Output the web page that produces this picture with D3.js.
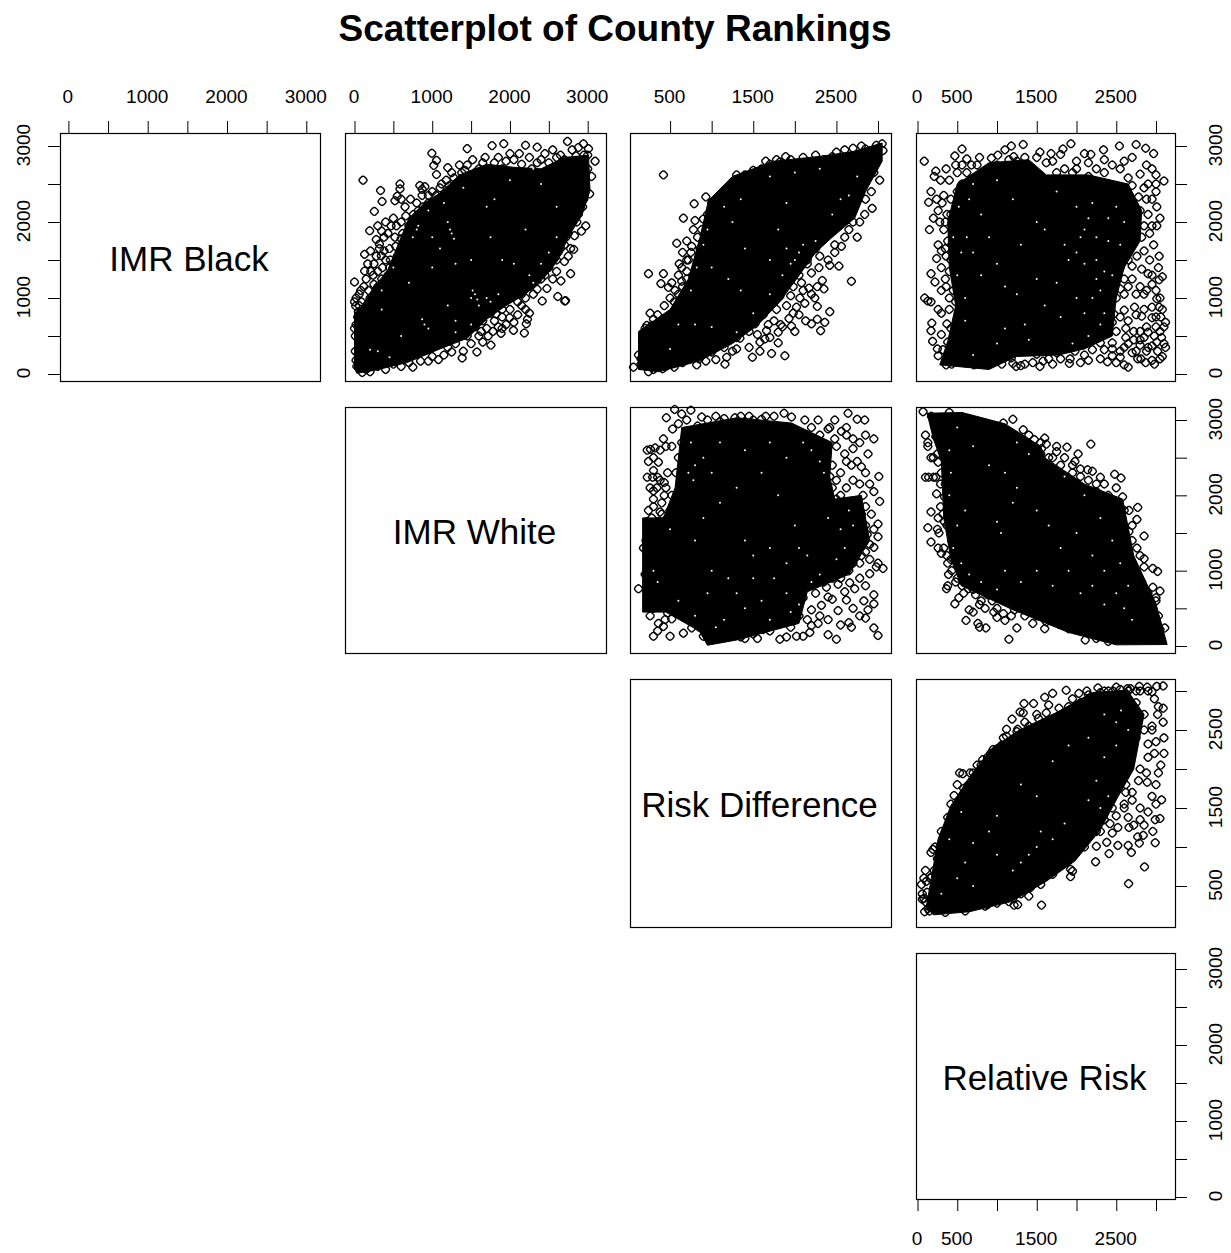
<!DOCTYPE html>
<html><head><meta charset="utf-8">
<script src="https://cdn.jsdelivr.net/npm/d3@7"></script>
<style>
html,body{margin:0;padding:0;background:#fff}
text{font-family:"Liberation Sans",Arial,sans-serif;fill:#000}
</style></head><body>
<svg id="c" width="1231" height="1253"></svg>
<script>
// ---- labels and ticks ----
const chartTitle = "Scatterplot of County Rankings";
const variables = ["IMR Black","IMR White","Risk Difference","Relative Risk"];
const ticksFull = [0,500,1000,1500,2000,2500,3000];
const ticksRD = [500,1000,1500,2000,2500,3000];
const labelsThousands = [0,1000,2000,3000];
const labelsOdd = [500,1500,2500];
const labelsOddZero = [0,500,1500,2500];

// ---- values: [x rank, y rank] ----
// NOTE: the original has thousands of overplotted counties that cannot be read one by one.
// The pts/more lists are a hand-read sample of the visible symbols, not the full data;
// the core outlines stand in for the solid overplotted areas and the gaps for white specks in them.
const ptsWhiteBlack = [[110,2550],[335,2415],[355,2270],[255,2140],[195,1885],[585,2500],[585,2435],[550,2340],[520,2280],[600,2300],[840,2480],[905,2465],[870,2430],[995,2905],[1055,2810],[1020,2745],[1055,2625],[1200,2715],[1450,2965],[1770,3005],[1920,3030],[2200,3010],[2350,2985],[2740,3060],[2945,3030],[3010,2965],[3095,2800],[3050,2600],[3025,2370],[2975,1950],[2935,2200],[2830,1820],[2820,1640],[2780,1320],[2655,1225],[2475,1125],[2350,1115],[2415,960],[2615,1020],[2705,960],[2715,965],[2200,850],[2225,720],[2185,540],[2045,575],[1995,740],[1885,535],[1755,380],[1575,290],[1385,210],[1080,190],[750,90],[0,1210],[130,1575],[205,1620],[320,1710],[345,1555],[130,1355],[15,895],
[80,1100],[150,1250],[250,1180],[300,1350],[400,1500],[250,1450],[450,1650],[380,1800],[300,1950],[400,2000],[500,2050],[600,2000],[700,1950],[620,1850],[520,1800],[470,1950],[760,2100],[650,2200],[720,2300],[800,2250],[870,2350],[950,2250],[1000,2400],[1100,2450],[1180,2550],[1250,2650],[1350,2750],[1420,2680],[1520,2820],[1600,2700],[1680,2850],[1800,2780],[1900,2700],[2050,2820],[2120,2900],[2250,2850],[2350,2780],[2450,2900],[2550,2950],[2650,2880],[2800,2950],[2880,2980],[200,1000],[60,900],[120,800],[40,750],[350,1250],[450,1400],[550,1550],[650,1700],[770,1780],[500,1250],[320,1650],[210,1350],[420,1180],[2950,2300],[2880,2100],[2800,2000],[2720,1800],[2650,1650],[2750,1550],[2600,1500],[2500,1400],[2550,1250],[2400,1250],[2300,1050],[2200,1000],[2100,950],[2000,850],[1900,750],[1800,700],[1850,620],[1700,600],[1600,500],[1650,420],[1500,400],[1400,300],[1250,290],[1150,250],[950,170],[850,170],[600,100],[400,60],[200,30],[100,20],[30,100],[10,300],[50,450],[0,600],[1780,560],[1950,960],[2080,1100],[2230,1280],[2350,1350],[2470,1520],[2560,1720],[2700,1700],[2900,2500],[2960,2700],[3000,2880]];
const moreWhiteBlack = [[60,1050],[120,1150],[180,1100],[240,1300],[170,1450],[280,1550],[360,1400],[430,1300],[500,1450],[560,1400],[330,1050],[260,1050],[400,1100],[480,1150],[600,1350],[640,1500],[700,1600],[750,1500],[380,1620],[460,1500],[530,1680],[600,1780],[680,1800],[430,1850],[350,1880],[280,1770],[540,1950],[660,2080],[740,1980],[820,2150],[880,2200],[950,2350],[1050,2350],[1120,2500],[1220,2480],[1280,2580],[1380,2650],[1450,2750],[1550,2650],[1650,2780],[1750,2700],[1850,2850],[1950,2800],[2000,2900],[2150,2760],[2280,2700],[2400,2820],[2500,2780],[2600,2850],[2700,2820],[2850,2870],[2950,2880],[20,1000],[50,820],[90,950],[150,900],[250,920],[300,1150],[0,950],[20,650],[70,600],[10,500],[60,250],[20,180],[90,100],[150,60],[300,100],[500,130],[700,150],[1000,230],[1200,350],[1300,400],[1450,500],[1550,620],[1650,700],[1750,800],[1900,850],[2000,1000],[2150,1050],[2250,1150],[2350,1230],[2450,1300],[2550,1500],[2620,1600],[2650,1750],[2750,1850],[2800,2100],[2850,2250],[2950,2450],[3000,2700],[2050,680],[1950,650],[1900,600],[2100,780],[2150,900],[1720,500],[1820,790],[1630,560],[2250,800],[2210,660],[2290,1180],[2600,1350],[2700,1480],[2780,1650],[2860,2000],[2920,1880]];
const ptsDiffBlack = [[420,2620],[790,2240],[930,2330],[660,2050],[800,2020],[900,2040],[1000,2130],[960,1990],[1040,2210],[1130,2140],[1170,2270],[1350,2500],[1430,2520],[1540,2570],[1600,2700],[1700,2760],[1820,2790],[1890,2860],[2000,2740],[2150,2780],[2350,2820],[2450,2860],[2600,2950],[2700,2970],[2850,2960],[2980,3010],[3050,3030],[3060,2940],[2980,2800],[3020,2550],[2920,2400],[2930,2180],[2840,2100],[2780,2000],[2650,1900],[2560,1680],[2480,1600],[2420,1430],[2530,1420],[2750,1800],[2210,1620],[2290,1400],[2330,1230],[2680,1220],[2270,1150],[2170,1130],[1980,1150],[1950,1030],[2120,930],[2270,890],[2360,680],[2310,570],[2020,880],[1930,730],[1830,650],[1850,620],[1800,410],[1640,460],[1340,470],[1490,220],[1880,240],[1720,270],[1580,300],[1160,130],[820,120],[550,90],[240,30],[310,150],[410,70],[60,90],[230,300],[170,490],[220,640],[300,720],[260,800],[550,950],[480,1140],[240,1320],[390,1190],[600,1050],[420,1320],[610,1450],[760,1680],[580,1720],[780,1900],[720,1500],[640,1220],[820,1100],[700,1350],[1950,1600],[2150,1500],[2050,1300],[2200,1330],[1900,1350],[1850,1100],[2080,1200],[2240,1000],[2050,780],[2130,700],[2200,660],[2270,720],[2420,820],[1960,630],[1660,570],[1750,700],[1550,520],[1450,560],[1300,330],[1180,220],[1050,190],[930,170],[700,210],[600,260],[150,200],[180,120],[280,410]];
const moreDiffBlack = [[200,600],[280,640],[350,780],[430,900],[500,1000],[560,1100],[650,1150],[700,1250],[600,1300],[520,1200],[640,1400],[700,1500],[650,1600],[750,1600],[840,1500],[860,1650],[700,1750],[830,1800],[880,1900],[950,2100],[1000,2250],[1100,2350],[1200,2450],[1300,2620],[1400,2620],[1500,2680],[1650,2800],[1780,2820],[1950,2820],[2100,2850],[2250,2880],[2500,2920],[2800,3000],[2950,2950],[2900,2750],[2850,2600],[2750,2400],[2700,2250],[2600,2050],[2450,1950],[2350,1800],[2250,1650],[2300,1550],[2150,1450],[2050,1500],[2000,1400],[1950,1250],[2100,1100],[2200,1050],[2350,1120],[1850,1250],[1820,1020],[1700,920],[1620,780],[1520,660],[1400,600],[1300,480],[1150,350],[1000,290],[850,200],[650,150],[450,100],[300,60],[150,130],[120,250],[180,400],[1900,900],[1980,800],[2060,1000],[1780,850],[1680,650],[1800,550],[2000,560],[1700,480],[1580,420],[1450,350],[1250,300],[2400,1500],[2480,1700],[2600,1800],[2700,2000],[2850,2300],[2950,2650]];
const ptsRelBlack = [[85,2800],[230,2670],[210,2600],[560,2960],[470,2870],[620,2830],[930,2840],[1100,2950],[1180,3000],[1330,3020],[1210,2860],[1010,2880],[1540,2920],[1680,2900],[1830,2960],[1930,3030],[2180,2890],[2340,2950],[2540,3000],[2750,3020],[2870,2970],[2970,2900],[3100,2540],[3000,2400],[3010,2200],[3010,1950],[2970,1700],[3040,1550],[3040,1240],[2900,1320],[3010,990],[3040,880],[3120,680],[3100,400],[3010,420],[3080,230],[2950,180],[2650,90],[2810,200],[2450,240],[2390,160],[1920,200],[1910,140],[1540,100],[1350,130],[1300,110],[1240,100],[1020,200],[850,230],[710,120],[360,120],[260,240],[250,330],[130,960],[90,1000],[170,950],[260,850],[180,670],[170,570],[190,430],[220,1210],[170,1320],[240,1520],[260,1700],[150,1900],[200,2050],[140,2260],[170,2400],[290,2550],[360,2700],[500,2650],[560,2500],[1800,2890],[2000,2800],[2100,2900],[2250,2700],[2450,2750],[2550,2700],[2650,2580],[2800,2630],[2900,2500],[3000,2620],[2780,2330],[2880,2300],[2750,2100],[2650,1950],[2900,2100],[2700,1800],[2820,1800],[2920,1850],[2550,1700],[2400,1600],[2460,1450],[2550,1400],[2650,1500],[2760,1550],[2850,1620],[2360,1300],[2480,1200],[2600,1250],[2700,1250],[2800,1150],[2880,1100],[2950,1300],[3000,1100],[2400,1030],[2500,1000],[2600,1050],[2370,880],[2470,790],[2600,840],[2730,880],[2820,760],[2950,740],[3000,620],[2880,620],[2800,560],[2720,450],[2620,480],[2500,560],[2450,410],[2600,350],[2800,380],[2880,300],[2950,370],[3050,560],[3060,750],[2550,220],[2700,280],[2300,410],[2200,320],[2100,250],[2000,380],[1850,340],[1750,280],[1650,200],[1500,260],[1180,210],[1060,130],[950,310],[800,320],[650,220],[540,170],[430,130],[320,320],[380,420],[300,520],[370,660],[300,1100],[400,1000],[350,1250],[300,1400],[420,1500],[350,1650],[330,1900],[430,1700],[370,2100],[310,2250],[420,2300],[500,2400],[620,2650],[750,2750],[850,2650],[1350,2850],[1450,2700],[1620,2780],[1750,2650],[1950,2650],[2150,2600],[2400,2500],[2500,2300],[2350,2250],[2450,2150],[2620,2300],[2230,2000],[2400,1900],[2280,1850],[2520,2000]];
const moreRelBlack = [[2320,1900],[2420,1750],[2540,1820],[2640,1650],[2750,1950],[2850,1950],[2950,1950],[3050,2050],[2600,1600],[2700,1420],[2820,1380],[2920,1500],[3030,1400],[3080,1280],[2950,1180],[2850,1050],[2750,1050],[2650,1150],[2550,1120],[2450,1300],[2350,1480],[2300,1650],[2250,1400],[2300,1000],[2250,800],[2350,700],[2450,680],[2550,750],[2650,700],[2750,780],[2850,850],[2950,880],[3050,1000],[3080,850],[3000,750],[2900,550],[2980,500],[3070,480],[3120,350],[3020,300],[2900,350],[2750,300],[2650,400],[2550,300],[2450,330],[2350,320],[2220,480],[2300,620],[2180,600],[2400,580],[2620,600],[2720,560],[3100,620],[2850,480],[2800,450],[2770,200],[2870,150],[2980,130],[3050,200],[2600,120],[2500,150],[2300,200],[2150,180],[2050,150],[1980,300],[1800,200],[1700,130],[1580,170],[1450,150],[1200,140],[1100,220],[900,150],[800,170],[630,150],[480,190],[430,300],[560,310],[480,500],[420,600],[550,700],[300,800],[400,850],[480,950],[360,1150],[450,1100],[500,1250],[400,1350],[360,1550],[300,1620],[500,1550],[380,1750],[280,2000],[350,2000],[420,2100],[260,2150],[330,2350],[240,2300],[400,2550],[480,2750],[560,2750],[680,2750],[780,2850],[1000,2750],[1150,2820],[1250,2800],[1500,2850],[1700,2800],[1850,2700],[2000,2700],[2150,2780],[2350,2820],[2350,2650],[2600,2450],[2700,2480],[2850,2450],[2950,2300],[2800,2150],[2650,2150],[2950,2700],[3000,2500],[2880,2750],[2700,2850],[2600,2800]];
const ptsDiffWhite = [[555,3140],[455,3030],[640,3080],[750,3130],[530,2880],[420,2750],[320,2630],[360,2440],[300,2330],[225,2600],[265,2610],[225,2240],[290,2240],[350,2240],[430,2170],[300,2060],[430,2000],[240,1800],[300,1850],[400,1900],[500,1800],[220,1650],[350,1650],[460,1600],[210,1400],[300,1500],[180,1300],[260,1250],[290,1150],[230,1100],[320,1050],[360,950],[120,760],[270,860],[340,750],[430,680],[220,560],[300,500],[260,400],[360,300],[420,260],[470,440],[520,360],[560,540],[620,420],[700,620],[760,240],[660,170],[500,130],[900,130],[1100,180],[850,250],[1050,300],[1350,120],[1500,160],[1450,300],[1620,220],[1820,90],[1950,250],[1880,370],[1750,450],[1650,560],[1900,120],[2100,130],[2200,270],[2300,400],[2400,150],[2500,90],[2650,310],[2850,370],[2950,240],[3000,140],[2520,470],[2700,500],[2830,600],[2950,560],[2620,610],[2450,620],[2320,540],[2200,480],[2100,640],[2050,760],[2180,800],[2380,780],[2520,820],[2660,840],[2780,900],[2900,960],[2980,1050],[3060,1030],[3000,1100],[2900,1150],[2800,1200],[2700,1100],[2560,1050],[2850,1250],[2950,1310],[3000,1450],[2870,1480],[2780,1400],[2720,1550],[2920,1750],[3020,1920],[3000,1620],[2800,1750],[2700,1850],[2600,1900],[2900,2150],[2820,2000],[3010,2250],[2800,2380],[2700,2200],[2620,2450],[2550,2300],[2500,2650],[2700,2620],[2880,2550],[2780,2700],[2620,2800],[2560,2850],[2480,2750],[2620,2900],[2840,3000],[2750,3010],[2640,3090],[2400,2880],[2280,3000],[2120,3000],[1960,3040],[1870,3090],[1750,3050],[1600,3010],[1450,3050],[1280,3030],[1100,2980],[950,3000],[830,2920],[2100,2400],[2250,2500],[2350,2600],[2300,2200],[2450,2100],[2500,1950],[2400,1780],[2550,1650],[2480,1500],[2650,1400],[2400,1400],[2350,1250],[2500,1250],[2620,1280],[2300,1100],[2420,1050],[2100,900],[2250,880],[1950,640],[1780,330],[1620,400],[1350,240],[1200,420],[970,430],[980,600],[850,500],[870,780],[800,920],[750,1100],[700,1300],[620,1400],[650,1200],[550,1150],[480,1000],[420,1200],[500,1400],[600,1650],[640,1900],[700,2200],[570,2300],[470,2300],[600,2500],[520,2650],[640,2700]];
const moreDiffWhite = [[240,2450],[300,2500],[380,2600],[450,2650],[380,2200],[260,2100],[340,2100],[450,2100],[520,2000],[300,1950],[380,1780],[280,1700],[420,1500],[2600,2550],[2680,2400],[2750,2450],[2850,2300],[2950,2050],[2780,2150],[2620,2100],[2500,2200],[2350,2400],[2450,2400],[2420,2250],[2550,2000],[2400,2000],[2650,1700],[2850,1850],[2950,1550],[2850,1600],[2600,1500],[2900,1350],[2780,1100],[2650,1000],[2550,900],[2450,900],[2350,850],[2250,700],[2400,650],[2600,720],[2720,760],[2850,800],[2950,680],[2880,480],[2780,400],[2680,250],[2550,280],[2400,350],[2280,300],[2180,180],[2020,130],[2050,400],[2150,350],[2000,550],[1850,500],[1700,200],[1550,100],[1400,100],[1250,230],[1150,120],[1000,80],[850,350],[750,420],[650,530],[600,780],[500,750],[420,850],[300,700],[250,620],[380,560],[440,350],[350,200],[300,130],[240,600],[200,950],[250,1000],[340,1200],[440,1050],[400,1400],[340,1450],[260,1350],[230,1520],[280,1620],[320,1550],[400,1750],[550,1550],[620,1500],[2950,2750],[2850,2800],[2700,2750],[2420,2900],[2480,3000],[2200,2900],[1650,3050],[1500,3000],[1350,3050],[1150,3020],[1050,3050],[880,3040],[700,3000],[600,2950],[2300,2800]];
const ptsRelWhite = [[70,3110],[175,3050],[100,2800],[230,2780],[130,2650],[260,2440],[100,2240],[140,2240],[200,2240],[230,2240],[290,2150],[340,1980],[290,1850],[170,1780],[260,1700],[130,1570],[270,1500],[170,1380],[300,1230],[380,1100],[390,950],[380,800],[365,760],[480,850],[520,640],[470,560],[580,700],[650,480],[700,450],[610,340],[760,300],[780,250],[860,240],[960,450],[1150,90],[1000,500],[1100,340],[1300,520],[1080,2960],[1200,3010],[1330,2870],[1470,2740],[1620,2680],[1750,2650],[1880,2640],[2020,2550],[2180,2680],[2140,2340],[2300,2240],[2480,2280],[2560,2230],[2580,1980],[2660,1800],[2770,1840],[2760,1680],[2660,1520],[2850,1460],[2760,1300],[2850,1160],[2960,1030],[3020,990],[2960,780],[3050,730],[3000,640],[3110,240],[2850,240],[2680,170],[2480,210],[2280,130],[2110,80],[1900,230],[1780,290],[1620,320],[1500,400],[1350,620],[1600,2760],[1300,2750],[1000,2800],[920,2900],[600,3000],[400,3100],[320,2950],[240,2900],[200,2500],[420,2400],[500,2100],[480,1700],[450,1450],[520,1250],[580,1080],[620,900],[700,750],[800,600],[880,680],[1050,720],[1180,400],[1250,240],[1600,230],[1700,500],[1850,370],[2020,340],[2140,250],[2300,260],[2400,330],[2550,420],[2700,420],[2820,570],[2930,450],[3030,400],[2700,650],[2600,860],[2500,1030],[2560,1250],[2460,1500],[2350,1700],[2200,1950],[2250,2050],[2400,2000],[2500,2100],[1950,2400],[2050,2350],[1850,2500],[1700,2500],[1560,2620],[1500,2500]];
const moreRelWhite = [[130,2700],[170,2500],[250,2550],[300,2300],[350,2150],[240,2020],[320,1750],[370,1600],[430,1400],[500,1200],[420,1150],[560,1000],[480,1150],[340,1650],[250,1550],[260,1300],[330,1300],[370,1200],[430,1000],[500,900],[560,800],[640,760],[730,680],[780,550],[850,500],[940,600],[1000,380],[1080,430],[1130,620],[1220,480],[1350,400],[1450,300],[1500,580],[1620,420],[1750,380],[1900,330],[2000,250],[2150,180],[2250,100],[2400,60],[2550,90],[2700,120],[2850,160],[2950,300],[3050,220],[3000,600],[2900,700],[2820,850],[2740,1000],[2650,1250],[2600,1400],[2550,1600],[2500,1750],[2400,1950],[2250,2150],[2150,2200],[2050,2250],[1950,2300],[1800,2400],[1650,2500],[1550,2550],[1450,2650],[1350,2720],[1200,2800],[1080,2850],[850,2850],[720,2980],[500,3000],[2700,1600],[2600,1800],[2850,1050],[2800,1200],[2700,1400],[2420,1750],[2300,2000],[2350,2150],[2200,2320],[1980,2450],[1750,2580],[1550,2700],[1400,2800]];
const ptsRelDiff = [[80,600],[195,970],[570,1940],[925,2180],[1120,2510],[1260,2510],[1190,2640],[1330,2720],[2030,2970],[2550,3020],[3090,3065],[3090,2780],[3050,1365],[3070,1605],[2990,1055],[2655,530],[2855,745],[2410,915],[2240,810],[1925,715],[1925,620],[1570,605],[1560,255],[1215,255],[60,330],[110,560],[80,340],[180,620],[220,1000],[170,930],[300,1200],[380,1380],[460,1660],[500,1800],[530,1950],[820,2120],[1000,2260],[1290,2730],[1340,2840],[1460,2840],[1600,2920],[1700,2970],[1870,3010],[2130,3000],[2270,3040],[2460,3000],[2640,3030],[2790,3060],[2890,3050],[3010,3060],[2950,2990],[3030,2800],[3090,2600],[3100,2400],[3100,2200],[3060,2050],[3030,1950],[3000,1800],[3000,1550],[2990,1350],[2900,1450],[2850,1280],[2960,1200],[2790,1050],[2690,930],[2770,1130],[2660,1250],[2650,1020],[2520,1020],[2380,1060],[2250,1010],[1950,690],[1400,370],[1260,260],[1130,450],[1200,340],[1100,500],[950,580],[880,260],[720,300],[420,240],[240,200],[130,210],[90,170],[200,300],[300,200],[560,250],[780,420],[1020,380],[1250,520],[1380,660],[1700,770],[1850,880],[2000,960],[2150,1130],[2420,1300],[2500,1400],[2600,1550],[2800,1350],[2950,1650],[2890,1830],[2980,2200],[2900,2320],[2950,2550],[2850,2700],[2750,2850],[2800,3000],[2680,3030],[2550,2950],[2600,2300],[2650,2150],[2700,2350],[2550,1950],[2500,1720],[2700,1600],[2620,1700],[2800,1500],[2520,1250],[2450,1180],[2300,1200],[60,400],[100,700],[50,520],[280,1000],[350,1200],[420,1550],[660,1950],[750,2050],[920,2200],[1080,2400],[1350,2600],[1500,2700],[1650,2820],[1950,2900],[2150,2900],[2350,3000]];
const moreRelDiff = [[120,420],[160,600],[210,700],[250,850],[300,1050],[340,1150],[410,1300],[470,1400],[520,1600],[580,1750],[640,1800],[700,1950],[800,2050],[880,2150],[950,2250],[1050,2300],[1120,2420],[1250,2480],[1400,2550],[1520,2650],[1620,2720],[1780,2780],[1900,2800],[2050,2850],[2150,2950],[2300,2980],[2400,3000],[2500,3050],[2650,3000],[2750,3000],[2900,3000],[2980,2900],[3020,2700],[2950,2500],[3000,2350],[2900,2150],[2800,2000],[2750,2400],[2850,2500],[2700,2550],[2780,1850],[2700,1700],[2620,1800],[2880,1950],[2600,1500],[2650,1380],[2720,1280],[2840,1150],[2450,1500],[2350,1350],[2250,1200],[2150,1150],[2100,1000],[1950,950],[1800,780],[1700,650],[1550,520],[1420,480],[1300,400],[1150,300],[1000,280],[850,240],[600,180],[350,160],[150,180],[100,300],[220,450],[330,600],[480,720],[2400,2750],[2550,2700],[2650,2650],[2500,2450],[2560,2200],[2450,2000]];

// Overplotted solid core of each panel: outline
const coreWhiteBlack = [[0,80],[0,800],[100,900],[250,1150],[420,1350],[560,1700],[700,2050],[900,2250],[1100,2380],[1350,2620],[1700,2760],[2050,2720],[2400,2700],[2700,2850],[3010,2880],[3030,2414],[2930,2100],[2750,1800],[2620,1500],[2450,1280],[2200,1050],[1950,900],[1700,720],[1450,470],[1100,330],[675,150],[269,50],[30,10]];
const coreDiffBlack = [[120,60],[120,560],[500,850],[720,1250],[860,1800],[960,2280],[1250,2600],[1750,2800],[2350,2870],[2711,2930],[3050,3040],[3050,2800],[2850,2400],[2720,2050],[2450,1800],[2250,1600],[2020,1250],[1820,950],[1550,640],[1250,400],[850,170],[364,30]];
const coreRelBlack = [[280,120],[380,430],[480,900],[400,1400],[380,2000],[500,2500],[900,2780],[1400,2820],[1620,2620],[2150,2620],[2650,2500],[2820,2150],[2800,1750],[2600,1400],[2500,1000],[2450,500],[2100,330],[1776,250],[1241,230],[900,60]];
const coreDiffWhite = [[170,1700],[420,1700],[560,2100],[640,2900],[1303,3030],[1960,2960],[2450,2700],[2420,2250],[2480,1950],[2800,2000],[2900,1400],[2650,950],[2150,720],[2050,300],[1303,80],[950,10],[850,200],[450,450],[170,450]];
const coreRelWhite = [[120,3090],[560,3100],[1100,2950],[1550,2650],[1600,2500],[2100,2150],[2580,1950],[2720,1200],[3000,560],[3140,20],[2500,15],[1900,180],[1200,480],[550,800],[420,1150],[330,1700],[300,2450],[200,2750]];
const coreRelDiff = [[110,230],[260,1104],[420,1530],[670,1920],[930,2260],[1280,2500],[1740,2720],[2200,2980],[2640,3010],[2850,2700],[2720,2000],[2520,1640],[2300,1220],[1980,820],[1620,560],[1180,300],[654,170],[200,130]];

// Small white gaps between overplotted symbols inside each core
const gapsWhiteBlack = [[420,1700],[450,1580],[500,1400],[350,1100],[800,1900],[1200,2000],[1230,1900],[1300,1450],[1500,1000],[1550,1050],[900,650],[950,600],[350,850],[1800,2300],[2400,2500],[2300,2700],[2000,2550],[1700,2200],[1750,1800],[1900,1500],[2050,1450],[2200,1900],[2600,2200],[700,1200],[1000,1400],[1200,900],[1300,700],[1600,900],[1700,1000],[600,500],[300,300],[200,320],[450,220],[1000,1800],[1100,1650],[1500,1500],[750,1800],[820,1950],[950,2150],[1150,2250],[1400,2450],[1250,1850],[1280,1780],[1520,1100],[1580,980],[2250,1300],[2400,1450],[2500,1600],[2600,1800],[2300,1200],[1750,950],[1850,1050],[1500,650],[1300,550],[870,720]];
const gapsDiffBlack = [[1700,2600],[2000,2650],[2300,2700],[1350,2300],[1150,2200],[1250,2000],[2550,2300],[2450,2100],[1900,2250],[1800,1900],[1700,1500],[1000,1400],[1200,1250],[1350,1100],[800,650],[1000,620],[500,330],[1900,1650],[2250,1750],[2100,1700],[1400,1650],[1950,1450],[2050,1600],[2000,1500],[1850,1300],[1700,1050],[750,1100],[820,1400],[900,1700],[950,1900],[600,650],[2650,2350],[2750,2600],[1500,800],[1300,550]];
const gapsRelBlack = [[1000,2550],[1200,2300],[800,2100],[1500,2000],[1600,1900],[1300,1700],[1000,1450],[800,1300],[1500,1250],[1750,1200],[1600,900],[1350,650],[1100,600],[2100,1900],[2000,2200],[1750,2400],[900,1800],[700,1600],[1900,1500],[2000,1000],[1800,750],[1400,450],[1000,400],[700,250],[2250,1800],[2400,2050],[2200,2250],[1250,1050],[1100,1150],[1850,1700],[2500,2200],[2600,2000],[2550,1700],[2450,1300],[2300,1100],[2350,800],[2150,500],[1950,400],[600,1000],[500,1300],[450,1800],[520,2200],[700,2500],[2400,1750],[2250,1500],[2350,1350],[2200,1000],[2100,800],[2300,650],[620,1800],[550,1600],[650,2300],[600,700],[2150,2050],[2050,1800],[2000,1600],[2100,1450],[2250,1250]];
const gapsDiffWhite = [[900,2500],[1000,2300],[1100,2700],[1400,2600],[1700,2700],[1900,2500],[2100,2700],[1300,2100],[1600,2300],[1800,2000],[1100,1900],[900,1700],[800,1400],[1400,1400],[1500,1200],[1700,1300],[2000,1600],[2050,1300],[2150,1200],[1900,1100],[1000,1000],[1200,900],[950,700],[1300,700],[1600,600],[1700,350],[1400,500],[1150,350],[1500,900],[2400,1700],[2550,1550],[1750,900],[1900,700],[750,2700],[800,2400],[720,2300],[780,2200],[2650,1800],[2700,1600],[2600,1300],[2500,1150],[2300,950],[2200,850],[2050,550],[1950,450],[1050,250],[800,400],[600,600],[500,1550],[300,1000],[350,850],[2200,2600],[2300,2450],[2350,2300]];
const gapsRelWhite = [[500,2900],[700,2650],[900,2400],[1100,2300],[1250,2100],[1000,1650],[1050,1500],[1200,1900],[1500,1800],[1650,1600],[1800,1300],[2000,1500],[2200,1200],[2350,1000],[2200,800],[1700,800],[1500,1000],[2500,700],[2700,350],[2350,550],[1100,1000],[1300,850],[1900,1000],[2050,700],[400,2000],[600,1800],[500,1600],[450,1300],[550,1100],[650,950],[800,850],[1000,750],[420,2300],[400,2600],[2300,1700],[2450,1400],[2550,1100],[2650,800],[2600,500],[1850,2250],[2100,2000],[1400,2550],[1250,2700]];
const gapsRelDiff = [[700,1050],[900,1200],[1000,1400],[1300,1800],[1500,1650],[1700,2100],[1900,2300],[2150,2400],[2350,2700],[2500,2600],[2350,2150],[2250,1850],[2150,1600],[1500,1000],[1400,900],[1300,800],[1200,700],[700,500],[500,600],[300,400],[1000,900],[600,800],[1850,1300],[1700,1100],[1550,1200],[2500,2300],[2650,2500],[2300,1500],[2400,1650],[2560,2750],[400,1100],[550,1450]];

// Which pair each panel shows
const panelList = [
 {col:1,row:0,pts:ptsWhiteBlack.concat(moreWhiteBlack),core:coreWhiteBlack,gaps:gapsWhiteBlack},
 {col:2,row:0,pts:ptsDiffBlack.concat(moreDiffBlack),core:coreDiffBlack,gaps:gapsDiffBlack},
 {col:3,row:0,pts:ptsRelBlack.concat(moreRelBlack),core:coreRelBlack,gaps:gapsRelBlack},
 {col:2,row:1,pts:ptsDiffWhite.concat(moreDiffWhite),core:coreDiffWhite,gaps:gapsDiffWhite},
 {col:3,row:1,pts:ptsRelWhite.concat(moreRelWhite),core:coreRelWhite,gaps:gapsRelWhite},
 {col:3,row:2,pts:ptsRelDiff.concat(moreRelDiff),core:coreRelDiff,gaps:gapsRelDiff}
];

// ---- layout ----
const colEdges = [[60,320],[345,606],[630,891],[916,1175]];
const rowEdges = [[133,381],[407,653],[679,927],[953,1199]];
const xMaps = [[68.4,306.3],[354.5,587.7],[628.5,878],[917.5,1156]]; // pixel of rank 0 and 3000
const yMaps = [[374,146],[646,420],[925,691],[1197,969]];

const xS = xMaps.map(r => d3.scaleLinear().domain([0,3000]).range(r));
const yS = yMaps.map(r => d3.scaleLinear().domain([0,3000]).range(r));

const svg = d3.select("#c");
svg.append("text").attr("x",615).attr("y",41).attr("text-anchor","middle")
  .attr("font-size",37).attr("font-weight","bold").text(chartTitle);

const fmt = labels => d => labels.includes(d) ? String(d) : "";
const hAxis = (gen,i,ticks,labels,y,pad) => {
  const g = svg.append("g").attr("transform",`translate(0,${y})`)
    .call(gen(xS[i]).tickValues(ticks).tickSize(12).tickPadding(pad).tickFormat(fmt(labels)));
  g.select(".domain").remove();
  g.selectAll("text").attr("font-size",19).attr("font-family",null).attr("dx",-1);
  g.selectAll("line").attr("stroke","#000").attr("stroke-width",1);
};
const vAxis = (gen,i,ticks,labels,x,off) => {
  const g = svg.append("g").attr("transform",`translate(${x},0)`)
    .call(gen(yS[i]).tickValues(ticks).tickSize(12).tickFormat(fmt(labels)));
  g.select(".domain").remove();
  g.selectAll("line").attr("stroke","#000").attr("stroke-width",1);
  g.selectAll("text").attr("font-size",19).attr("font-family",null)
    .attr("x",null).attr("dy",null).attr("text-anchor","middle").attr("dominant-baseline","central")
    .attr("transform",`translate(${off},-1.5) rotate(-90)`);
};
hAxis(d3.axisTop,0,ticksFull,labelsThousands,133,18);
hAxis(d3.axisTop,1,ticksFull,labelsThousands,133,18);
hAxis(d3.axisTop,2,ticksRD,labelsOdd,133,18);
hAxis(d3.axisTop,3,ticksFull,labelsOddZero,133,18);
hAxis(d3.axisBottom,3,ticksFull,labelsOddZero,1199,21);
vAxis(d3.axisLeft,0,ticksFull,labelsThousands,60,-37);
vAxis(d3.axisRight,0,ticksFull,labelsThousands,1175,40);
vAxis(d3.axisRight,1,ticksFull,labelsThousands,1175,40);
vAxis(d3.axisRight,2,ticksRD,labelsOdd,1175,40);
vAxis(d3.axisRight,3,ticksFull,labelsThousands,1175,40);

// R's small open circle, which rasterises as a rounded diamond
const roundedDiamond = {draw(ctx){
  const a = 4, b = 2.45, c = 1;
  ctx.moveTo(0,-a);ctx.lineTo(c,-a+.3);ctx.lineTo(b,-b);ctx.lineTo(a-.3,-c);ctx.lineTo(a,0);
  ctx.lineTo(a-.3,c);ctx.lineTo(b,b);ctx.lineTo(c,a-.3);ctx.lineTo(0,a);
  ctx.lineTo(-c,a-.3);ctx.lineTo(-b,b);ctx.lineTo(-a+.3,c);ctx.lineTo(-a,0);
  ctx.lineTo(-a+.3,-c);ctx.lineTo(-b,-b);ctx.lineTo(-c,-a+.3);ctx.closePath();
}};
const diamond = d3.symbol().type(roundedDiamond);
panelList.forEach(p => {
  const x = xS[p.col], y = yS[p.row];
  const g = svg.append("g");
  g.append("path").attr("fill","#000").attr("stroke","#000").attr("stroke-linejoin","round")
    .attr("d", d3.line().x(d=>x(d[0])).y(d=>y(d[1])).curve(d3.curveLinearClosed)(p.core));
  g.selectAll("path.pt").data(p.pts).join("path").attr("class","pt")
    .attr("d",diamond).attr("fill","none").attr("stroke","#000").attr("stroke-width",1.4)
    .attr("transform",d=>`translate(${x(d[0])},${y(d[1])})`);
  g.selectAll("circle.gap").data(p.gaps).join("circle").attr("class","gap")
    .attr("cx",d=>x(d[0])).attr("cy",d=>y(d[1])).attr("r",1).attr("fill","#fff");
});

colEdges.forEach((c,i) => {
  const [t,b] = rowEdges[i];
  svg.append("text").attr("x",(c[0]+c[1])/2-1).attr("y",(t+b)/2+14).attr("text-anchor","middle")
    .attr("font-size",35).text(variables[i]);
});
// Panel frames
d3.range(4).forEach(ci => d3.range(ci+1).forEach(ri => {
  const [l,r] = colEdges[ci], [t,b] = rowEdges[ri];
  svg.append("rect").attr("x",l+.5).attr("y",t+.5).attr("width",r-l).attr("height",b-t)
    .attr("fill","none").attr("stroke","#000").attr("stroke-width",1.2);
}));
</script></body></html>
